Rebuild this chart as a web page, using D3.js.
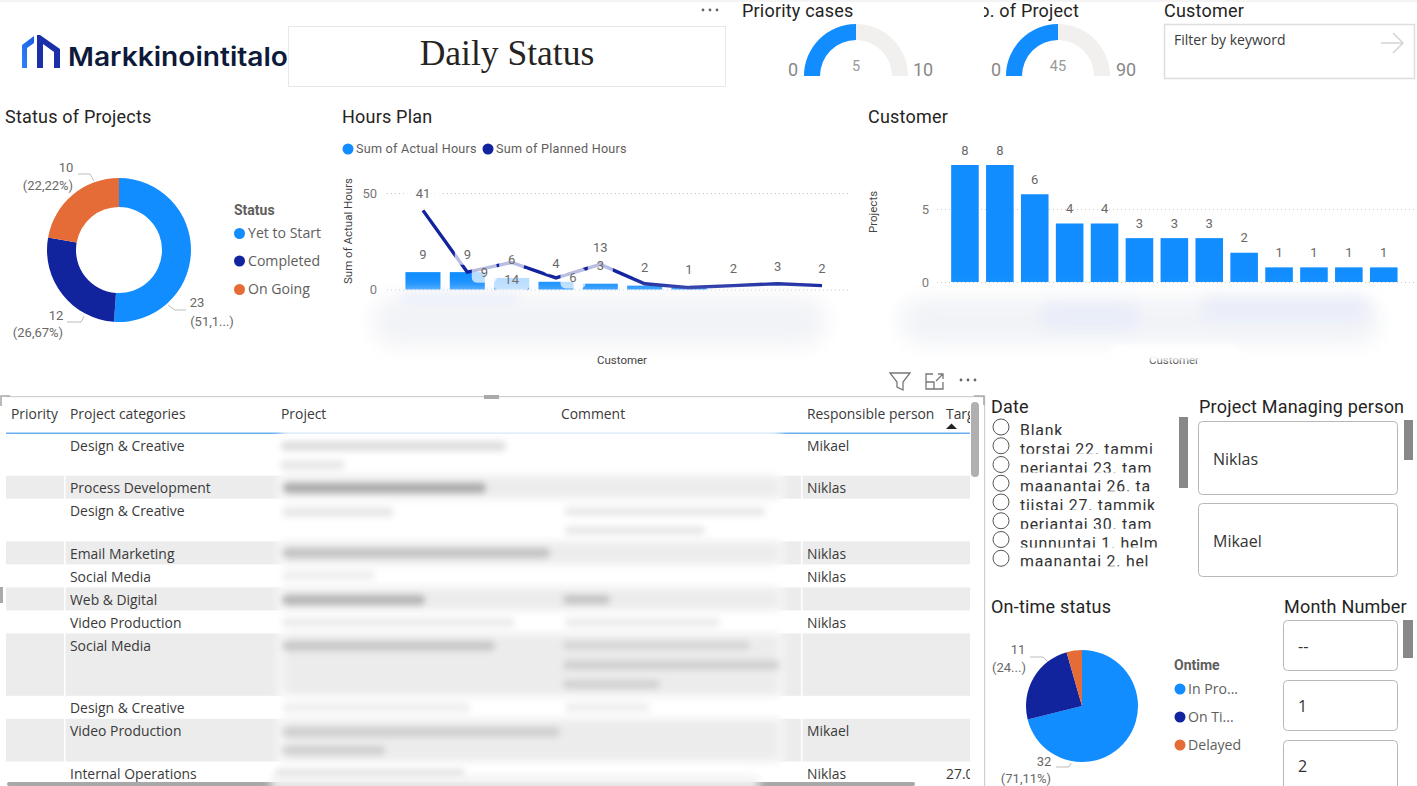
<!DOCTYPE html>
<html>
<head>
<meta charset="utf-8">
<title>Daily Status</title>
<script src="https://cdn.jsdelivr.net/npm/d3@7"></script>
<style>
html,body{margin:0;padding:0;background:#fff;overflow:hidden;}
svg{display:block;}
text{font-family:"Open Sans",sans-serif;}
.title{font-family:Roboto,sans-serif;font-size:18px;fill:#252423;letter-spacing:.2px;}
.lab{font-family:Roboto,sans-serif;font-size:13px;fill:#6a6866;text-anchor:middle;}
.leg{font-size:14.1px;fill:#605e5c;}
.legh{font-size:14px;font-weight:700;fill:#605e5c;font-family:Roboto,sans-serif;}
.cell{font-size:13.9px;fill:#3a3a3a;}
.axt{font-family:Roboto,sans-serif;font-size:11.5px;fill:#444;}
.tick text{font-family:Roboto,sans-serif;font-size:13px;fill:#777;}
.tick line{stroke:#c8c6c4;stroke-dasharray:1 3;}
.leader{fill:none;stroke:#bdbdbd;stroke-width:1;}
</style>
</head>
<body>
<svg id="main" width="1417" height="786"></svg>
<script>
var blue='#118DFF', navy='#12239E', orange='#E66C37', track='#F1F0EE';

// status donut
var statusNames=['Yet to Start','Completed','On Going'];
var statusValues=[23,12,10];
// on time pie
var ontimeNames=['In Pro...','On Ti...','Delayed'];
var ontimeValues=[32,11,2];
// hours plan
var hoursCustomers=[1,2,3,4,5,6,7,8,9,10];
var actualHours=[9,9,6,4,3,2,1,0,0,0];
var plannedHours=[41,9,14,6,13,3,1,2,3,2];
// customer chart
var customerIds=[1,2,3,4,5,6,7,8,9,10,11,12,13];
var customerProjects=[8,8,6,4,4,3,3,3,2,1,1,1,1];
// table
var tableHeads=['Priority','Project categories','Project','Comment','Responsible person','Targ'];
var tableCategories=['Design & Creative','Process Development','Design & Creative','Email Marketing','Social Media','Web & Digital','Video Production','Social Media','Design & Creative','Video Production','Internal Operations'];
var tablePersons=['Mikael','Niklas','','Niklas','Niklas','','Niklas','','','Mikael','Niklas'];
var tableTargets=['','','','','','','','','','','27.0'];
var tableLines=[2,1,2,1,1,1,1,3,1,2,1];
// slicers
var dateItems=['Blank','torstai 22. tammi','perjantai 23. tam','maanantai 26. ta','tiistai 27. tammik','perjantai 30. tam','sunnuntai 1. helm','maanantai 2. hel'];
var managers=['Niklas','Mikael'];
var months=['--','1','2'];

var svg=d3.select('#main');
var defs=svg.append('defs');
[2,3,4,5,7,10].forEach(function(b){
  defs.append('filter').attr('id','blur'+b)
    .attr('x','-30%').attr('y','-80%').attr('width','160%').attr('height','260%')
    .append('feGaussianBlur').attr('stdDeviation',b);
});
function clip(id,x,y,w,h){
  defs.append('clipPath').attr('id',id).append('rect').attr('x',x).attr('y',y).attr('width',w).attr('height',h);
}
function smudge(g,x,y,w,h,col,op,b){
  g.append('rect').attr('x',x).attr('y',y).attr('width',w).attr('height',h).attr('rx',h/2)
    .attr('fill',col).attr('opacity',op).attr('filter','url(#blur'+b+')');
}
function title(txt,x,y){
  return svg.append('text').attr('class','title').attr('x',x).attr('y',y).attr('dy','.35em').text(txt);
}
function dots(x,y){
  [-7,0,7].forEach(function(d){
    svg.append('circle').attr('cx',x+d).attr('cy',y).attr('r',1.4).attr('fill','#666');
  });
}
function leader(pts){
  svg.append('path').attr('class','leader').attr('d',d3.line()(pts));
}
function lab(txt,x,y,cls){
  svg.append('text').attr('class',cls||'lab').attr('x',x).attr('y',y).attr('dy','.35em').text(txt);
}

svg.append('rect').attr('width',1417).attr('height',2).attr('fill','#f4f4f4');

// ---- logo
var grad=defs.append('linearGradient').attr('id','logoGrad').attr('x1',0).attr('x2',1).attr('y1',1).attr('y2',0);
grad.append('stop').attr('offset','0').attr('stop-color','#2f80ff');
grad.append('stop').attr('offset','1').attr('stop-color','#1a5fe0');
svg.append('path').attr('fill','url(#logoGrad)').attr('d','M22 68V45L34 36V43L27 48V68Z');
svg.append('path').attr('fill','#1b2fa8').attr('d','M37 68V35H40L60 49V68H54V52L43 44V68Z');
svg.append('text').attr('x',68).attr('y',66).attr('textLength',220).attr('lengthAdjust','spacingAndGlyphs')
  .style('font-family','Inter,sans-serif').style('font-weight','600').style('font-size','26px').attr('fill','#0d1a3a').text('Markkinointitalo');

// ---- header box
svg.append('rect').attr('x',288.5).attr('y',26.5).attr('width',437).attr('height',60).attr('fill','#fff').attr('stroke','#e8e8e8');
svg.append('text').attr('x',507).attr('y',64.5).attr('text-anchor','middle')
  .style('font-family','"Liberation Serif",serif').style('font-size','35.5px').attr('fill','#252423').text('Daily Status');
dots(710,10);

// ---- gauges
function gauge(cx,val,max,minX,maxX){
  var y=76;
  var scale=d3.scaleLinear().domain([0,max]).range([-Math.PI/2,Math.PI/2]);
  var arc=d3.arc().innerRadius(36).outerRadius(52);
  var g=svg.append('g').attr('transform','translate('+cx+','+y+')');
  g.append('path').attr('fill',track).attr('d',arc({startAngle:scale(0),endAngle:scale(max)}));
  g.append('path').attr('fill',blue).attr('d',arc({startAngle:scale(0),endAngle:scale(val)}));
  var st='font-family:Roboto,sans-serif;fill:#888;text-anchor:middle;';
  svg.append('text').attr('style',st+'font-size:18px').attr('x',minX).attr('y',70).attr('dy','.35em').text(0);
  svg.append('text').attr('style',st+'font-size:18px').attr('x',maxX).attr('y',70).attr('dy','.35em').text(max);
  svg.append('text').attr('style',st+'font-size:14.5px;fill:#999').attr('x',cx).attr('y',66).attr('dy','.35em').text(val);
}
title('Priority cases',742,10.6);
gauge(856,5,10,793,923);
clip('noClip',984,0,120,24);
title('No. of Project',1079,10.6).attr('text-anchor','end').attr('clip-path','url(#noClip)');
gauge(1058,45,90,996,1126);

// ---- keyword filter
title('Customer',1164,10.6);
svg.append('rect').attr('x',1164.5).attr('y',24.5).attr('width',250).attr('height',54).attr('fill','#fff').attr('stroke','#ddd').attr('stroke-width',1.5);
svg.append('text').attr('class','cell').attr('x',1174).attr('y',40).attr('dy','.35em').style('font-size','14px').text('Filter by keyword');
svg.append('path').attr('fill','none').attr('stroke','#d4d4d4').attr('stroke-width',1.5).attr('d','M1381 43H1402M1393 33L1403 43L1393 53');

// ---- status donut
title('Status of Projects',5,117);
var pie=d3.pie().sort(null);
var donutArc=d3.arc().innerRadius(43).outerRadius(72);
var donut=svg.append('g').attr('transform','translate(119,250)');
donut.selectAll('path').data(pie(statusValues)).enter().append('path')
  .attr('d',donutArc).attr('fill',function(d,i){return [blue,navy,orange][i];});
var statusTotal=d3.sum(statusValues);
function pct(v,t){return (v/t*100).toFixed(2).replace('.',',')+'%';}
leader([[78,174],[90,174],[94,181]]);
lab(statusValues[2],66,167);
lab('('+pct(statusValues[2],statusTotal)+')',48,185);
leader([[168,305],[175,310],[186,310]]);
lab(statusValues[0],197,302);
lab('(51,1...)',212,321);
leader([[67,322],[81,322],[84,316]]);
lab(statusValues[1],56,315);
lab('('+pct(statusValues[1],statusTotal)+')',38,332);
lab('Status',234,210,'legh');
statusNames.forEach(function(n,i){
  var y=[233.5,261,289.5][i];
  svg.append('circle').attr('cx',239.5).attr('cy',y).attr('r',5.5).attr('fill',[blue,navy,orange][i]);
  lab(n,248,y,'leg');
});

// ---- hours plan
title('Hours Plan',342,117);
[['Sum of Actual Hours',348,356,blue],['Sum of Planned Hours',488,496,navy]].forEach(function(l){
  svg.append('circle').attr('cx',l[1]).attr('cy',149).attr('r',5.5).attr('fill',l[3]);
  svg.append('text').attr('x',l[2]).attr('y',149).attr('dy','.35em')
    .style('font-family','Roboto,sans-serif').style('font-size','12.6px').attr('fill','#605e5c').style('letter-spacing','.25px').text(l[0]);
});
var hx=d3.scaleBand().domain(hoursCustomers).range([400.8,844.2]).paddingInner(.21).paddingOuter(.105);
var hy=d3.scaleLinear().domain([0,50]).range([289.5,193]);
svg.append('g').attr('transform','translate(387,0)')
  .call(d3.axisLeft(hy).tickValues([0,50]).tickSize(-461).tickPadding(10))
  .call(function(g){g.select('.domain').remove();});
svg.append('text').attr('class','axt').attr('transform','translate(352,231) rotate(-90)').attr('text-anchor','middle').text('Sum of Actual Hours');
svg.selectAll('.hbar').data(actualHours).enter().append('rect').attr('class','hbar')
  .attr('x',function(d,i){return hx(hoursCustomers[i]);}).attr('width',hx.bandwidth())
  .attr('y',function(d){return hy(d);}).attr('height',function(d){return hy(0)-hy(d);})
  .attr('fill',blue);
var hmid=function(i){return hx(hoursCustomers[i])+hx.bandwidth()/2;};
svg.append('path').datum(plannedHours).attr('fill','none').attr('stroke',navy).attr('stroke-width',3.4)
  .attr('d',d3.line().x(function(d,i){return hmid(i);}).y(function(d){return hy(d);}));
// data labels with the white plate power bi puts behind them
var hourLabels=[];
actualHours.forEach(function(v,i){ if(v>0) hourLabels.push({t:v,x:hmid(i),y:hy(v)-18}); });
var lineLabelOffsets=[[0,-17],[17,0],[0,17],[17,0],[0,-17],null,null,[0,-17],[0,-17],[0,-17]];
plannedHours.forEach(function(v,i){
  var o=lineLabelOffsets[i];
  if(o) hourLabels.push({t:v,x:hmid(i)+o[0],y:hy(v)+o[1]});
});
hourLabels.forEach(function(l){
  var w=String(l.t).length>1?36:25;
  svg.append('rect').attr('x',l.x-w/2).attr('y',l.y-10.5).attr('width',w).attr('height',21).attr('rx',5)
    .attr('fill','#fff').attr('opacity',.7);
});
hourLabels.forEach(function(l){ lab(l.t,l.x,l.y); });
// redacted axis labels
var hs=svg.append('g');
smudge(hs,372,296,455,50,'#f1f2f6',.9,10);
smudge(hs,400,292,120,12,'#e4eafa',.55,5);
svg.append('text').attr('class','axt').attr('x',622).attr('y',360).attr('dy','.35em').attr('text-anchor','middle').text('Customer');

// ---- customer chart
title('Customer',868,117);
var cx=d3.scaleBand().domain(customerIds).range([947.5,1401.2]).paddingInner(.21).paddingOuter(.105);
var cy=d3.scaleLinear().domain([0,8]).range([282,165]);
svg.append('g').attr('transform','translate(937,0)')
  .call(d3.axisLeft(cy).tickValues([0,5]).tickSize(-480).tickPadding(8))
  .call(function(g){g.select('.domain').remove();});
svg.append('text').attr('class','axt').attr('transform','translate(877,212) rotate(-90)').attr('text-anchor','middle').text('Projects');
svg.selectAll('.cbar').data(customerProjects).enter().append('rect').attr('class','cbar')
  .attr('x',function(d,i){return cx(customerIds[i]);}).attr('width',cx.bandwidth())
  .attr('y',function(d){return cy(d);}).attr('height',function(d){return cy(0)-cy(d);})
  .attr('fill',blue);
customerProjects.forEach(function(v,i){
  lab(v,cx(customerIds[i])+cx.bandwidth()/2,cy(v)-15);
});
svg.append('text').attr('class','axt').attr('x',1174).attr('y',360).attr('dy','.35em').attr('text-anchor','middle').text('Customer');
var cs=svg.append('g');
smudge(cs,900,298,480,46,'#f0f2f6',.9,10);
smudge(cs,1040,302,100,28,'#e6ebf9',.7,7);
smudge(cs,1200,296,170,24,'#e6ebf9',.7,7);
smudge(cs,1110,345,130,15,'#ffffff',1,2);

// ---- visual header icons
svg.append('path').attr('fill','none').attr('stroke','#777').attr('stroke-width',1.3).attr('d','M890 373H910L903 382V390L897 387V382Z');
svg.append('path').attr('fill','none').attr('stroke','#777').attr('stroke-width',1.3).attr('d','M933 374H926V389H943V382M926 382H934V389M936 381L943 374M938 374H943V379');
dots(968,380);

// ---- table
var colX=[11,70,281,561,807,946];
var rowTop=[433];
tableLines.forEach(function(n,i){ rowTop.push(rowTop[i]+23+(n-1)*19.7); });
var table=svg.append('g');
clip('tblClip',6,396,964,386);
var rows=table.append('g').attr('clip-path','url(#tblClip)');
tableLines.forEach(function(n,i){
  if(i%2==1) rows.append('rect').attr('x',6).attr('y',rowTop[i]).attr('width',964).attr('height',rowTop[i+1]-rowTop[i]).attr('fill','#ececec');
});
[64,801].forEach(function(x){
  rows.append('rect').attr('x',x).attr('y',433).attr('width',1.5).attr('height',353).attr('fill','#fff');
});
rows.append('rect').attr('x',6).attr('y',432.5).attr('width',964).attr('height',1.5).attr('fill','#6aaef0');
// blurred out columns
var soft=table.append('g').attr('filter','url(#blur4)');
soft.append('rect').attr('x',279).attr('y',430).attr('width',503).attr('height',352).attr('rx',8).attr('fill','#fff');
tableLines.forEach(function(n,i){
  if(i%2==1) soft.append('rect').attr('x',283).attr('y',rowTop[i]).attr('width',496).attr('height',rowTop[i+1]-rowTop[i]).attr('fill','#ececec');
});
var sm=[[281,441,225,10,.24],[280,460,65,10,.16],[283,483,203,10,.55],[282,507,112,10,.16],[565,507,200,9,.16],[565,526,140,9,.16],
[282,548,268,10,.34],[282,571,93,9,.12],[282,595,143,10,.46],[563,595,47,9,.34],[282,618,233,9,.14],[565,618,155,9,.14],
[282,641,213,10,.3],[563,641,187,9,.18],[563,660,217,10,.22],[563,680,97,9,.22],[283,703,187,9,.12],[565,703,85,9,.12],
[282,727,278,10,.24],[282,746,103,9,.24],[275,769,190,9,.2]];
var smg=table.append('g');
sm.forEach(function(s){ smudge(smg,s[0],s[1],s[2],s[3],'#777',s[4],3); });
// cells
tableHeads.forEach(function(h,i){
  if(i==5) return;
  table.append('text').attr('class','cell').attr('x',colX[i]).attr('y',414).attr('dy','.35em').text(h);
});
clip('targClip',940,396,30,390);
table.append('text').attr('class','cell').attr('x',colX[5]).attr('y',414).attr('dy','.35em').attr('clip-path','url(#targClip)').text('Target');
table.append('path').attr('fill','#252423').attr('d','M946 429L951.5 423.5L957 429Z');
tableCategories.forEach(function(c,i){
  var y=rowTop[i]+12.7;
  table.append('text').attr('class','cell').attr('x',colX[1]).attr('y',y).attr('dy','.35em').text(c);
  if(tablePersons[i]) table.append('text').attr('class','cell').attr('x',colX[4]).attr('y',y).attr('dy','.35em').text(tablePersons[i]);
  if(tableTargets[i]) table.append('text').attr('class','cell').attr('x',colX[5]).attr('y',y).attr('dy','.35em').attr('clip-path','url(#targClip)').text(tableTargets[i]);
});
// frame and scrollbars
svg.append('rect').attr('x',6).attr('y',396).attr('width',978).attr('height',1.2).attr('fill','#cfcfcf');
svg.append('rect').attr('x',984).attr('y',396).attr('width',1.2).attr('height',390).attr('fill','#cfcfcf');
svg.append('rect').attr('x',484).attr('y',395).attr('width',15).attr('height',4).attr('fill','#aaa');
svg.append('rect').attr('x',0).attr('y',587).attr('width',3).attr('height',16).attr('fill','#aaa');
svg.append('path').attr('fill','none').attr('stroke','#aaa').attr('stroke-width',1.6).attr('d','M10 396H1V406');
svg.append('path').attr('fill','none').attr('stroke','#aaa').attr('stroke-width',1.6).attr('d','M974 396H984V405');
svg.append('rect').attr('x',971).attr('y',402).attr('width',8).attr('height',75).attr('rx',4).attr('fill','#b0b0b0');
svg.append('rect').attr('x',7).attr('y',782).attr('width',908).attr('height',4).attr('rx',2).attr('fill','#a8a8a8');
var sb=svg.append('g');
smudge(sb,270,776,490,14,'#f2f2f2',1,4);

// ---- date slicer
title('Date',991,407);
dateItems.forEach(function(d,i){
  var y=427+i*18.75;
  clip('dateClip'+i,1016,y-12,150,20);
  svg.append('circle').attr('cx',1001).attr('cy',y).attr('r',8).attr('fill','#fff').attr('stroke','#555').attr('stroke-width',1);
  svg.append('text').attr('x',1020).attr('y',y+9).attr('clip-path','url(#dateClip'+i+')')
    .style('font-family','Roboto,sans-serif').style('font-size','15.9px').style('letter-spacing','.75px').attr('fill','#333').text(d);
});
svg.append('rect').attr('x',1179).attr('y',417).attr('width',9).attr('height',71).attr('fill','#8a8886');

// ---- managing person
title('Project Managing person',1199,407);
function slicerBtn(x,y,w,h,t){
  svg.append('rect').attr('x',x+.5).attr('y',y+.5).attr('width',w).attr('height',h).attr('rx',4).attr('fill','#fff').attr('stroke','#b8b8b8');
  svg.append('text').attr('x',x+15).attr('y',y+h/2+1.5).attr('dy','.35em').style('font-size','16px').attr('fill','#333').text(t);
}
managers.forEach(function(m,i){ slicerBtn(1198,421+i*82,199,73,m); });
svg.append('rect').attr('x',1404).attr('y',420).attr('width',9).attr('height',40).attr('fill','#8a8886');

// ---- on time pie
title('On-time status',991,607);
var pieArc=d3.arc().innerRadius(0).outerRadius(56);
var ontime=svg.append('g').attr('transform','translate(1082,706)');
ontime.selectAll('path').data(pie(ontimeValues)).enter().append('path')
  .attr('d',pieArc).attr('fill',function(d,i){return [blue,navy,orange][i];});
var ontimeTotal=d3.sum(ontimeValues);
leader([[1030,657],[1043,657],[1048,662]]);
lab(ontimeValues[1],1018,649);
lab('(24...)',1009,667);
leader([[1056,767],[1069,767],[1071,763]]);
lab(ontimeValues[0],1044,761);
lab('('+pct(ontimeValues[0],ontimeTotal)+')',1026,778);
lab('Ontime',1174,665,'legh');
ontimeNames.forEach(function(n,i){
  var y=689+i*28;
  svg.append('circle').attr('cx',1180).attr('cy',y).attr('r',5.5).attr('fill',[blue,navy,orange][i]);
  lab(n,1188,y,'leg');
});

// ---- month slicer
title('Month Number',1284,607);
months.forEach(function(m,i){ slicerBtn(1283,620+i*60,114,50,m); });
svg.append('rect').attr('x',1403).attr('y',620).attr('width',10).attr('height',38).attr('fill','#8a8886');

// left aligned legend labels (the .lab class is centered)
svg.selectAll('text.leg,text.legh').style('text-anchor','start');
</script>
</body>
</html>
